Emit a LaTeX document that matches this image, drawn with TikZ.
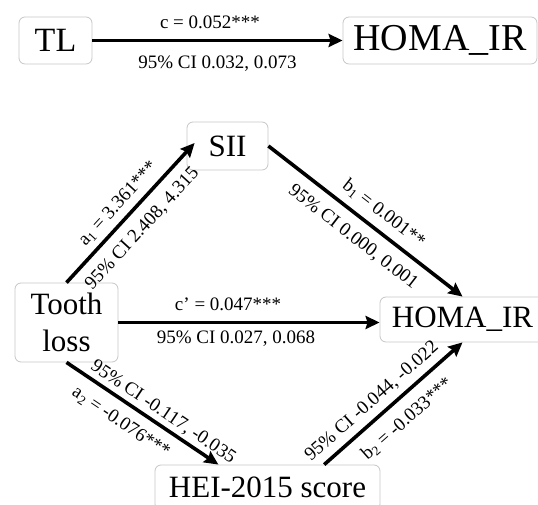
\documentclass[tikz,border=0pt]{standalone}
\usepackage{fontspec}
\setmainfont{Liberation Serif}
\usetikzlibrary{positioning, calc}
\usetikzlibrary{arrows.meta}

\begin{document}
\begin{tikzpicture}[x=1pt,y=1pt]
        \tikzset{box/.style = {draw=gray!45, line width=0.8pt, rounded corners=6pt, inner sep=0pt, font=\fontsize{31}{37}\selectfont}}
        \tikzset{bigedge/.style = {line width=3.6pt, -{Stealth[length=14pt,width=13pt,inset=2pt]}}}
        \tikzset{lab/.style = {inner sep=2pt, font=\fontsize{19}{22}\selectfont}}

        \useasboundingbox (0,0) rectangle (538,505);

        % total effect
        \node[box, minimum width=73pt, minimum height=47pt, font=\fontsize{34}{40}\selectfont] (tl) at (55.5,464.5) {TL};
        \node[box, minimum width=194pt, minimum height=47pt, font=\fontsize{38}{44}\selectfont] (homatop) at (440,464.5) {HOMA\_IR};

        % mediation model
        \node[box, minimum width=81pt, minimum height=48pt] (sii) at (227.5,359) {SII};
        \node[box, minimum width=103pt, minimum height=79pt, align=center] (tooth) at (66.5,182.5) {Tooth\\loss};
        \node[box, minimum width=165pt, minimum height=45pt] (homa) at (462.5,185.5) {HOMA\_IR};
        \node[box, minimum width=225pt, minimum height=45pt] (hei) at (267.5,17.5) {HEI-2015 score};

        \draw[bigedge] (tl.east) -- node[lab, above=8pt, pos=.47] {c = 0.052***}
                node[lab, below=12pt, pos=.5] {95\% CI 0.032, 0.073} (homatop.west);

        % arrows
        \draw[bigedge] (tooth.north) -- node[lab, sloped, above=3.5pt, pos=.49] {a\textsubscript{1} = 3.361***}
                node[lab, sloped, below=8pt, pos=.48] {95\% CI 2.408, 4.315} ($(sii.west)+(8,3)$);
        \draw[bigedge] (sii.east) -- node[lab, sloped, above=5.5pt, pos=.54] {b\textsubscript{1} = 0.001**}
                node[lab, sloped, below=8.5pt, pos=.5] {95\% CI 0.000, 0.001} (homa.north);
        \draw[bigedge] (tooth.east) -- node[lab, above=8pt, pos=.42] {c' = 0.047***}
                node[lab, below=5pt, pos=.45] {95\% CI 0.027, 0.068} (tooth.east -| homa.west);
        \draw[bigedge] (tooth.south) -- node[lab, sloped, above=1pt, pos=.59] {95\% CI -0.117, -0.035}
                node[lab, sloped, below=8pt, pos=.43] {a\textsubscript{2} = -0.076***} (hei.155);
        \draw[bigedge] (hei.22) -- node[lab, sloped, above=4pt, pos=.42] {95\% CI -0.044, -0.022}
                node[lab, sloped, below=9pt, pos=.5] {b\textsubscript{2} = -0.033***} (homa.south);

\end{tikzpicture}
\end{document}
